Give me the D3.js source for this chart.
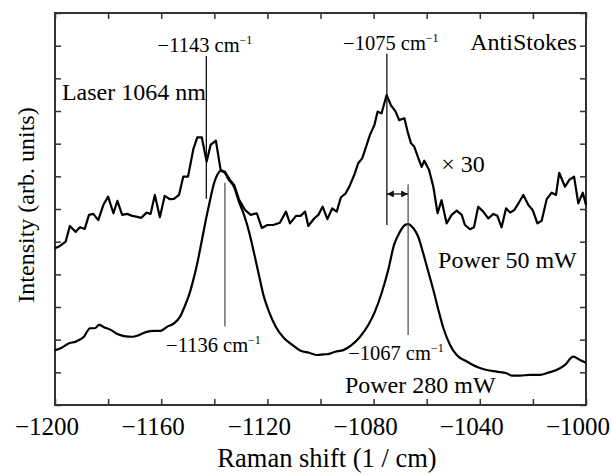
<!DOCTYPE html>
<html>
<head>
<meta charset="utf-8">
<script src="https://cdn.jsdelivr.net/npm/d3@7"></script>
<style>
  body { margin: 0; background: #fff; }
  svg text { font-family: "Liberation Serif", "Times New Roman", serif; fill: #000; }
</style>
</head>
<body>
<div id="chart"></div>
<script>
// Raman shift (cm^-1) and intensity (tick units)
var shift50 = [-1200, -1198.5, -1196, -1194.4, -1192.2, -1190.6, -1188.8, -1187.2, -1185.6, -1183.7,
    -1181.8, -1180, -1178, -1176.5, -1174.7, -1172.8, -1170.9, -1169, -1167.5, -1165.5,
    -1164, -1162.4, -1160.5, -1158.7, -1156.7, -1155.2, -1153.3, -1151.7, -1149.9, -1147.9,
    -1146.4, -1144.7, -1142.9, -1141.4, -1139.4, -1137.6, -1136, -1134.1, -1132.5, -1130.6,
    -1128.4, -1126.3, -1124, -1122.1, -1120, -1117.8, -1115.3, -1113, -1111.5, -1109.2,
    -1107.5, -1105.8, -1104.6, -1102.4, -1100.8, -1099.2, -1097.4, -1095.6, -1093.9, -1092.3,
    -1090.5, -1088.9, -1087.3, -1085.8, -1084.3, -1082.6, -1081.4, -1079.7, -1078.5, -1077,
    -1075.1, -1073.5, -1071.7, -1070.4, -1068.4, -1067.2, -1065.9, -1064.7, -1062.9, -1061.9,
    -1060.9, -1059.1, -1057.5, -1055.9, -1054.4, -1052.5, -1050.6, -1048.7, -1046.8, -1045.6,
    -1043.7, -1042.2, -1040.6, -1038.7, -1036.8, -1034.9, -1033.4, -1031.8, -1030.1, -1028.6,
    -1027, -1025.1, -1023.6, -1021.7, -1020.1, -1018.3, -1016.7, -1014.8, -1012.9, -1011.3,
    -1010.1, -1007.9, -1006.3, -1004.5, -1002.9, -1001.2, -1000];
var power50 = [4.80, 4.85, 5.00, 5.48, 5.30, 5.44, 5.39, 5.82, 5.85, 5.66,
    6.12, 6.38, 5.87, 6.25, 5.82, 5.85, 5.79, 5.76, 5.73, 5.89,
    5.85, 6.43, 5.75, 6.40, 6.30, 6.31, 6.43, 6.99, 6.99, 7.83,
    8.19, 8.19, 7.45, 7.96, 8.09, 7.19, 7.14, 6.89, 6.73, 6.27,
    5.97, 5.82, 5.87, 5.42, 5.51, 5.51, 5.58, 5.92, 5.56, 5.79,
    5.79, 5.92, 5.48, 5.71, 5.82, 6.07, 5.69, 6.02, 5.92, 6.36,
    6.48, 6.73, 7.04, 7.40, 7.55, 7.96, 8.26, 8.57, 8.98, 8.93,
    9.49, 9.18, 8.98, 8.72, 8.78, 8.37, 8.01, 7.91, 7.50, 7.29,
    7.48, 7.19, 6.68, 5.87, 6.27, 5.56, 5.82, 5.95, 5.82, 5.51,
    5.38, 5.44, 6.07, 5.92, 5.71, 5.85, 5.79, 5.44, 6.02, 5.89,
    5.97, 6.22, 6.43, 6.12, 5.97, 5.56, 5.64, 6.30, 6.50, 6.43,
    7.11, 6.68, 6.89, 6.99, 6.17, 6.50, 6.12];

var shift280 = [-1200, -1197.9, -1194.7, -1192.2, -1189.1, -1186.8, -1185, -1183.4, -1181.5, -1179,
    -1176.5, -1174, -1170.9, -1168.4, -1165.5, -1162.7, -1160.2, -1157.7, -1155.2, -1152.9,
    -1151.2, -1149.5, -1147.9, -1146.4, -1144.9, -1143.2, -1141.6, -1140.1, -1138.9, -1137.6,
    -1136.1, -1134.5, -1132.6, -1130.7, -1128.8, -1126.9, -1125, -1123.2, -1121.3, -1119.4,
    -1116.9, -1113.7, -1110.6, -1107.5, -1104.3, -1101.2, -1098.7, -1097.1, -1094.5, -1091.4,
    -1088.2, -1085.1, -1082, -1079.5, -1077, -1074.5, -1072.3, -1070.1, -1068.2, -1067,
    -1065, -1063.2, -1061.3, -1059.4, -1057.5, -1055.6, -1053.7, -1051.2, -1048.7, -1044.9,
    -1041.2, -1037.4, -1033.6, -1029.9, -1028, -1024.9, -1021.1, -1017.3, -1014.2, -1011.2,
    -1008, -1004.8, -1002.3, -1000];
var power280 = [1.68, 1.74, 1.89, 1.94, 2.09, 2.35, 2.35, 2.45, 2.38, 2.30,
    2.17, 2.11, 2.09, 2.14, 2.24, 2.27, 2.27, 2.40, 2.50, 2.70,
    3.01, 3.37, 3.83, 4.34, 4.95, 5.66, 6.27, 6.79, 7.04, 7.17,
    7.11, 6.89, 6.68, 6.22, 5.82, 5.30, 4.64, 3.98, 3.31, 2.86,
    2.40, 2.04, 1.84, 1.66, 1.60, 1.53, 1.55, 1.56, 1.63, 1.68,
    1.84, 2.09, 2.45, 2.86, 3.42, 4.13, 4.90, 5.30, 5.51, 5.54,
    5.41, 5.15, 4.64, 4.08, 3.52, 2.91, 2.35, 1.84, 1.53, 1.33,
    1.17, 1.07, 1.02, 0.97, 0.90, 0.90, 0.92, 0.92, 0.99, 1.07,
    1.22, 1.48, 1.38, 1.29];

var xTicks = [-1200, -1160, -1120, -1080, -1040, -1000];
var xMinorTicks = [-1200, -1180, -1160, -1140, -1120, -1100, -1080, -1060, -1040, -1020, -1000];
var yTicks = [0, 1, 2, 3, 4, 5, 6, 7, 8, 9, 10, 11, 12];

// peak markers
var peakLabels = ["\u22121143", "\u22121075", "\u22121136", "\u22121067"];
var peakShift = [-1143, -1075, -1136, -1067];
var markTop = [10.68, 10.75, 6.80, 6.76];
var markBottom = [6.31, 5.51, 2.40, 2.14];

var width = 612, height = 475;
var margin = { top: 13, right: 26, bottom: 70, left: 55 };
var w = width - margin.left - margin.right;
var h = height - margin.top - margin.bottom;

var svg = d3.select("#chart").append("svg")
    .attr("width", width)
    .attr("height", height);

var g = svg.append("g")
    .attr("transform", "translate(" + margin.left + "," + margin.top + ")");

var x = d3.scaleLinear().domain([-1200, -1000]).range([0, w]);
var y = d3.scaleLinear().domain([0, 12]).range([h, 0]);

var axisColor = "#333";

// ticks on all four sides, pointing inward
g.append("g")
    .attr("transform", "translate(0," + h + ")")
    .call(d3.axisBottom(x).tickValues(xMinorTicks).tickSize(-6).tickFormat(""))
    .call(s => s.select(".domain").remove());
g.append("g")
    .call(d3.axisTop(x).tickValues(xMinorTicks).tickSize(-6).tickFormat(""))
    .call(s => s.select(".domain").remove());
g.append("g")
    .call(d3.axisLeft(y).tickValues(yTicks).tickSize(-6).tickFormat(""))
    .call(s => s.select(".domain").remove());
g.append("g")
    .attr("transform", "translate(" + w + ",0)")
    .call(d3.axisRight(y).tickValues(yTicks).tickSize(-6).tickFormat(""))
    .call(s => s.select(".domain").remove());
g.selectAll(".tick line").style("stroke", axisColor).style("stroke-width", "1.5px");

// x tick labels
g.selectAll(".xlab")
    .data(xTicks)
    .enter().append("text")
    .attr("x", d => x(d) - 8)
    .attr("y", h + 30)
    .attr("text-anchor", "middle")
    .style("font-size", "25px")
    .text(d => d3.format("")(d).replace("-", "\u2212"));

// frame
g.append("rect")
    .attr("width", w).attr("height", h)
    .style("fill", "none")
    .style("stroke", axisColor)
    .style("stroke-width", "2px");

var line = d3.line()
    .x(d => x(d[0]))
    .y(d => y(d[1]));

g.append("path")
    .datum(d3.zip(shift50, power50))
    .attr("d", line)
    .style("fill", "none").style("stroke", "#000").style("stroke-width", "2.2px")
    .style("stroke-linejoin", "round");

g.append("path")
    .datum(d3.zip(shift280, power280))
    .attr("d", line.curve(d3.curveMonotoneX))
    .style("fill", "none").style("stroke", "#000").style("stroke-width", "2.2px");

// peak marker lines
var markColor = ["#111", "#111", "#555", "#555"];
g.selectAll(".mark")
    .data(peakShift)
    .enter().append("line")
    .attr("x1", d => x(d)).attr("x2", d => x(d))
    .attr("y1", (d, i) => y(markTop[i]))
    .attr("y2", (d, i) => y(markBottom[i]))
    .style("stroke", (d, i) => markColor[i])
    .style("stroke-width", "1.3px");

// peak labels with cm^-1
var labelPos = [[-1143.5, 10.8], [-1073.5, 10.87], [-1140.3, 1.62], [-1071.6, 1.38]];
peakLabels.forEach(function (t, i) {
    var txt = g.append("text")
        .attr("x", x(labelPos[i][0]))
        .attr("y", y(labelPos[i][1]))
        .attr("text-anchor", "middle")
        .style("font-size", "20.5px");
    txt.append("tspan").text(t + " cm");
    txt.append("tspan").attr("dy", -8).style("font-size", "12px").text("\u22121");
});

// shift arrow between -1075 and -1067
var defs = svg.append("defs");
defs.append("marker")
    .attr("id", "ah")
    .attr("viewBox", "0 0 10 10")
    .attr("refX", 10).attr("refY", 5)
    .attr("markerWidth", 7).attr("markerHeight", 7)
    .attr("markerUnits", "userSpaceOnUse")
    .attr("orient", "auto-start-reverse")
    .append("path").attr("d", "M0,0L10,5L0,10Z").style("fill", "#111");
g.append("line")
    .attr("x1", x(-1075)).attr("x2", x(-1067))
    .attr("y1", y(6.46)).attr("y2", y(6.46))
    .style("stroke", "#111").style("stroke-width", "1.3px")
    .attr("marker-start", "url(#ah)")
    .attr("marker-end", "url(#ah)");

// annotations
function note(t, xv, yv, anchor) {
    g.append("text")
        .attr("x", x(xv)).attr("y", y(yv))
        .attr("text-anchor", anchor)
        .style("font-size", "24px")
        .text(t);
}
note("Laser 1064 nm", -1197.4, 9.34, "start");
note("AntiStokes", -1003.4, 10.87, "end");
note("\u00d7 30", -1046.3, 7.13, "middle");
note("Power 50 mW", -1055.7, 4.19, "start");
note("Power 280 mW", -1090.8, 0.37, "start");

// axis titles
svg.append("text")
    .attr("x", 327).attr("y", 467)
    .attr("text-anchor", "middle")
    .style("font-size", "26.5px")
    .text("Raman shift (1 / cm)");
svg.append("text")
    .attr("transform", "translate(34,205) rotate(-90)")
    .attr("text-anchor", "middle")
    .style("font-size", "24px")
    .text("Intensity (arb. units)");
</script>
</body>
</html>
